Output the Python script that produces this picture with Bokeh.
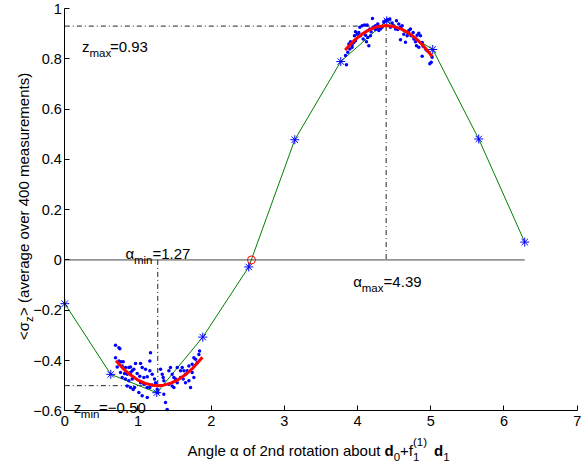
import math
from bokeh.plotting import figure
from bokeh.models import Label, FixedTicker, CustomJSTickFormatter, Range1d, LinearAxis
from bokeh.embed import file_html
from bokeh.resources import INLINE

# ---- data ----
angles = [0.000, 0.628, 1.257, 1.885, 2.513, 3.142, 3.770, 4.398, 5.027, 5.655, 6.283]
sigma_z = [-0.174, -0.455, -0.528, -0.307, -0.028, 0.478, 0.789, 0.951, 0.837, 0.481, 0.071]

min_measurements = [
    (0.693, -0.339), (0.739, -0.349), (0.752, -0.353), (0.693, -0.389), (0.739, -0.402),
    (0.770, -0.405), (0.798, -0.405), (0.716, -0.426), (0.784, -0.422), (0.830, -0.428),
    (0.875, -0.428), (0.761, -0.448), (0.816, -0.452), (0.852, -0.455), (0.898, -0.448),
    (0.921, -0.441), (0.943, -0.435), (0.784, -0.468), (0.830, -0.474), (0.875, -0.481),
    (0.921, -0.474), (0.943, -0.468), (0.852, -0.501), (0.898, -0.507), (0.953, -0.507),
    (0.934, -0.515), (0.898, -0.426), (0.966, -0.412), (1.035, -0.412), (1.057, -0.428),
    (1.103, -0.435), (1.162, -0.441), (0.989, -0.452), (1.025, -0.463), (1.080, -0.468),
    (1.126, -0.465), (1.194, -0.455), (1.035, -0.488), (1.080, -0.494), (1.126, -0.507),
    (1.162, -0.507), (1.194, -0.497), (1.171, -0.369), (1.162, -0.402), (1.012, -0.527),
    (1.057, -0.540), (1.126, -0.547), (1.226, -0.474), (1.240, -0.488), (1.262, -0.514),
    (1.271, -0.527), (1.308, -0.435), (1.331, -0.455), (1.344, -0.468), (1.353, -0.481),
    (1.353, -0.534), (1.376, -0.567), (1.399, -0.595), (1.422, -0.441), (1.444, -0.428),
    (1.467, -0.455), (1.490, -0.468), (1.513, -0.474), (1.422, -0.494), (1.467, -0.501),
    (1.490, -0.507), (1.536, -0.488), (1.536, -0.428), (1.581, -0.441), (1.604, -0.428),
    (1.627, -0.441), (1.649, -0.455), (1.672, -0.441), (1.581, -0.468), (1.618, -0.474),
    (1.649, -0.488), (1.695, -0.481), (1.695, -0.422), (1.740, -0.415), (1.763, -0.389),
    (1.786, -0.395), (1.809, -0.408), (1.832, -0.376), (1.841, -0.362), (1.740, -0.448),
    (1.763, -0.468), (1.718, -0.507),
]

max_measurements = [
    (3.834, 0.813), (3.866, 0.826), (3.848, 0.776), (3.880, 0.859), (3.903, 0.868),
    (3.925, 0.855), (3.948, 0.865), (3.971, 0.872), (3.894, 0.839), (3.925, 0.846),
    (3.957, 0.892), (3.971, 0.908), (3.994, 0.898), (4.016, 0.905), (4.039, 0.892),
    (4.030, 0.925), (4.062, 0.931), (4.094, 0.934), (4.130, 0.934), (4.076, 0.879),
    (4.108, 0.894), (4.139, 0.885), (4.121, 0.868), (4.167, 0.918), (4.185, 0.908),
    (4.212, 0.925), (4.244, 0.916), (4.267, 0.921), (4.290, 0.912), (4.312, 0.918),
    (4.335, 0.925), (4.153, 0.852), (4.176, 0.892), (4.203, 0.960), (4.244, 0.931),
    (4.276, 0.938), (4.358, 0.945), (4.381, 0.951), (4.413, 0.955), (4.440, 0.958),
    (4.472, 0.942), (4.495, 0.931), (4.449, 0.925), (4.531, 0.951), (4.563, 0.938),
    (4.517, 0.918), (4.549, 0.916), (4.586, 0.925), (4.609, 0.931), (4.586, 0.876),
    (4.631, 0.898), (4.654, 0.866), (4.677, 0.892), (4.700, 0.912), (4.722, 0.918),
    (4.731, 0.892), (4.759, 0.905), (4.768, 0.879), (4.791, 0.868), (4.813, 0.894),
    (4.836, 0.902), (4.859, 0.892), (4.804, 0.852), (4.836, 0.846), (4.882, 0.865),
    (4.895, 0.850), (4.927, 0.839), (4.950, 0.832), (4.882, 0.810), (4.986, 0.780),
    (5.005, 0.786), (5.018, 0.806),
]

fit_min_x = [0.70, 0.80, 0.90, 1.00, 1.10, 1.20, 1.27, 1.35, 1.45, 1.55, 1.65, 1.75, 1.88]
fit_min_y = [-0.401, -0.433, -0.458, -0.478, -0.491, -0.498, -0.500, -0.498, -0.490, -0.476, -0.456, -0.430, -0.387]
fit_max_x = [3.83, 3.95, 4.05, 4.15, 4.25, 4.39, 4.50, 4.60, 4.70, 4.80, 4.90, 5.02]
fit_max_y = [0.835, 0.872, 0.896, 0.914, 0.926, 0.932, 0.928, 0.918, 0.902, 0.880, 0.851, 0.809]

zero_cross_x = [2.55]
zero_cross_y = [0.0]

alpha_min, z_min = 1.27, -0.50
alpha_max, z_max = 4.39, 0.93

x_ticks = [0, 1, 2, 3, 4, 5, 6, 7]
y_ticks = [-0.6, -0.4, -0.2, 0, 0.2, 0.4, 0.6, 0.8, 1.0]
x_lo, x_hi = 0, 7
y_lo, y_hi = -0.6, 1.0

FONT = "Liberation Sans"
TICK = "14.5px"
MAIN = "15px"
SUB = "11.5px"

# frame covers the whole canvas; axes are placed at fixed data locations
p = figure(width=583, height=464,
           x_range=Range1d(-0.8784, 7.0861), y_range=Range1d(-0.8136, 1.0318),
           x_axis_location=None, y_axis_location=None,
           output_backend="svg", toolbar_location=None, min_border=0)
p.outline_line_color = None
p.grid.visible = False
p.background_fill_color = "white"
p.border_fill_color = "white"

xaxis = LinearAxis(fixed_location=y_lo, bounds=(x_lo, x_hi), ticker=FixedTicker(ticks=x_ticks))
yaxis = LinearAxis(fixed_location=x_lo, bounds=(y_lo, y_hi), ticker=FixedTicker(ticks=y_ticks))
yaxis.formatter = CustomJSTickFormatter(code="""
if (Math.abs(tick) < 1e-9) return "0";
if (Math.abs(tick - 1) < 1e-9) return "1";
return tick.toFixed(1).replace("-", "\u2212");
""")
for ax in (xaxis, yaxis):
    ax.major_tick_in = 5
    ax.major_tick_out = 0
    ax.minor_tick_line_color = None
    ax.axis_line_color = "black"
    ax.major_tick_line_color = "black"
    ax.major_label_text_font = FONT
    ax.major_label_text_font_size = TICK
    ax.major_label_text_color = "black"
yaxis.major_label_standoff = 3
xaxis.major_label_standoff = 5
p.add_layout(xaxis, "below")
p.add_layout(yaxis, "left")

# zero line
p.line([angles[0], angles[-1]], [0, 0], line_color="#444444", line_width=1)

# dash-dot guides
dd = dict(line_color="#222222", line_width=1, line_dash="5 3 1 3")
p.line([0, alpha_max], [z_max, z_max], **dd)
p.line([alpha_max, alpha_max], [z_max, 0], **dd)
p.line([0, alpha_min], [z_min, z_min], **dd)
p.line([alpha_min, alpha_min], [0, z_min], **dd)

# green connecting line and stars
p.line(angles, sigma_z, line_color="#008000", line_width=1)
p.scatter(angles, sigma_z, marker="asterisk", size=9, line_color="blue", line_width=1)

# single measurements
mx = [a for a, b in min_measurements] + [a for a, b in max_measurements]
my = [b for a, b in min_measurements] + [b for a, b in max_measurements]
p.scatter(mx, my, marker="circle", size=3.5, fill_color="blue", line_color=None)

# fits
p.line(fit_min_x, fit_min_y, line_color="red", line_width=3)
p.line(fit_max_x, fit_max_y, line_color="red", line_width=3)

# zero crossing
p.scatter(zero_cross_x, zero_cross_y, marker="circle", size=8, fill_color=None,
          line_color="red", line_width=1)


def lab(x, y, text, dx=0, dy=0, size=MAIN, style="normal", angle=0.0, baseline="alphabetic"):
    p.add_layout(Label(x=x, y=y, x_offset=dx, y_offset=dy, text=text, text_font=FONT,
                       text_font_size=size, text_font_style=style, text_color="black",
                       text_baseline=baseline, text_align="left", angle=angle))


# annotations
lab(0.235, 0.850, "z")
lab(0.235, 0.850, "max", dx=7.5, dy=-7, size=SUB)
lab(0.235, 0.850, "=%.2f" % z_max, dx=28)

lab(0.829, 0.026, "\u03b1")
lab(0.829, 0.026, "min", dx=8.5, dy=-6.5, size=SUB)
lab(0.829, 0.026, "=%.2f" % alpha_min, dx=27)

lab(3.940, -0.085, "\u03b1")
lab(3.940, -0.085, "max", dx=8.5, dy=-7, size=SUB)
lab(3.940, -0.085, "=%.2f" % alpha_max, dx=30.4)

lab(0.123, -0.587, "z")
lab(0.123, -0.587, "min", dx=7, dy=-6.5, size=SUB)
lab(0.123, -0.587, "=\u2212%.2f" % abs(z_min), dx=25.3)

# y axis label (rotated)
yl_x, yl_y = -0.564, -0.318
rot = math.pi / 2
lab(yl_x, yl_y, "<\u03c3", angle=rot, baseline="middle")
lab(yl_x, yl_y, "z", dx=5, dy=18, size=SUB, angle=rot, baseline="middle")
lab(yl_x, yl_y, "> (average over 400 measurements)", dy=24, angle=rot, baseline="middle")

# x axis label
xl_x, xl_y = 1.676, -0.757
lab(xl_x, xl_y, "Angle \u03b1 of 2nd rotation about")
lab(xl_x, xl_y, "d", dx=197, style="bold")
lab(xl_x, xl_y, "0", dx=206.2, dy=-7, size=SUB)
lab(xl_x, xl_y, "+f", dx=212.6)
lab(xl_x, xl_y, "1", dx=225.5, dy=-7, size=SUB)
lab(xl_x, xl_y, "(1)", dx=225.5, dy=8, size=SUB)
lab(xl_x, xl_y, "d", dx=246.5, style="bold")
lab(xl_x, xl_y, "1", dx=255.7, dy=-7, size=SUB)

open("out.html", "w").write(file_html(p, INLINE))
